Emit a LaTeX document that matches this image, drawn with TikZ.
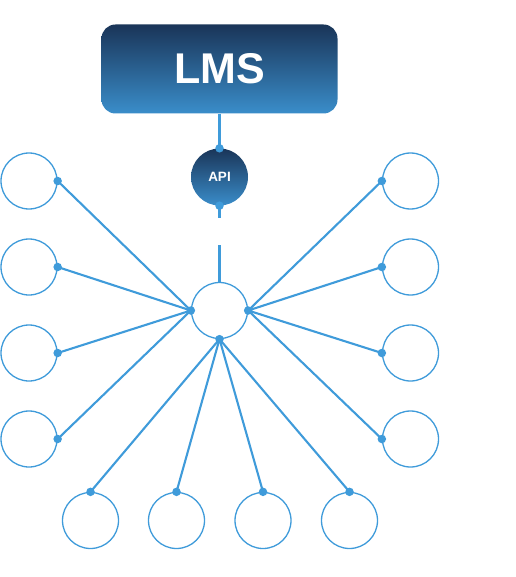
\documentclass[tikz,border=0pt]{standalone}
\usepackage{fontspec}
\setmainfont{Liberation Sans}
\definecolor{lineblue}{HTML}{3F9BDA}
\definecolor{navytop}{HTML}{1A3558}
\definecolor{navybot}{HTML}{3A8DCA}
\tikzset{
  conn/.style={draw=lineblue, line width=2.1pt},
  leaf/.style={circle, draw=lineblue, line width=1.3pt, minimum size=56pt, inner sep=0pt, fill=white},
  pin/.style={circle, fill=lineblue, minimum size=8.5pt, inner sep=0pt},
  lmsbox/.style={rounded corners=14pt, top color=navytop, bottom color=navybot, minimum width=236pt, minimum height=89pt, text=white, font=\bfseries\fontsize{43}{43}\selectfont},
  apinode/.style={circle, top color=navytop, bottom color=navybot, minimum size=57pt, inner sep=0pt, text=white, font=\bfseries\fontsize{13.5}{14}\selectfont}
}
\begin{document}
\begin{tikzpicture}[x=1pt, y=-1pt]
\useasboundingbox (0,0) rectangle (515,577);
\node[lmsbox] (lms) at (219.5,69) {LMS};
\node[apinode] (api) at (219.5,177) {API};
\node[leaf] (hub) at (219.5,310.5) {};
\coordinate (g1) at (219.5,218);
\coordinate (g2) at (219.5,245);
% left
\node[leaf] (l1) at (29,181) {};
\node[leaf] (l2) at (29,267) {};
\node[leaf] (l3) at (29,353) {};
\node[leaf] (l4) at (29,439) {};
% right
\node[leaf] (r1) at (410.5,181) {};
\node[leaf] (r2) at (410.5,267) {};
\node[leaf] (r3) at (410.5,353) {};
\node[leaf] (r4) at (410.5,439) {};
% bottom
\node[leaf] (b1) at (90.5,520.5) {};
\node[leaf] (b2) at (176.5,520.5) {};
\node[leaf] (b3) at (263,520.5) {};
\node[leaf] (b4) at (349.5,520.5) {};
% connectors
\draw[conn] (lms.south) -- (api.north);
\draw[conn] (api.south) -- (g1);
\draw[conn] (g2) -- (hub.north);
\foreach \n in {l1,l2,l3,l4} \draw[conn] (\n.east) -- (hub.west);
\foreach \n in {r1,r2,r3,r4} \draw[conn] (\n.west) -- (hub.east);
\foreach \n in {b1,b2,b3,b4} \draw[conn] (\n.north) -- (hub.south);
% pins
\node[pin] (papin) at (api.north) {};
\node[pin] (paps) at (api.south) {};
\node[pin] (phw) at (hub.west) {};
\node[pin] (phe) at (hub.east) {};
\node[pin] (phs) at (hub.south) {};
\foreach \n in {l1,l2,l3,l4} \node[pin] (p\n) at (\n.east) {};
\foreach \n in {r1,r2,r3,r4} \node[pin] (p\n) at (\n.west) {};
\foreach \n in {b1,b2,b3,b4} \node[pin] (p\n) at (\n.north) {};
\end{tikzpicture}
\end{document}
